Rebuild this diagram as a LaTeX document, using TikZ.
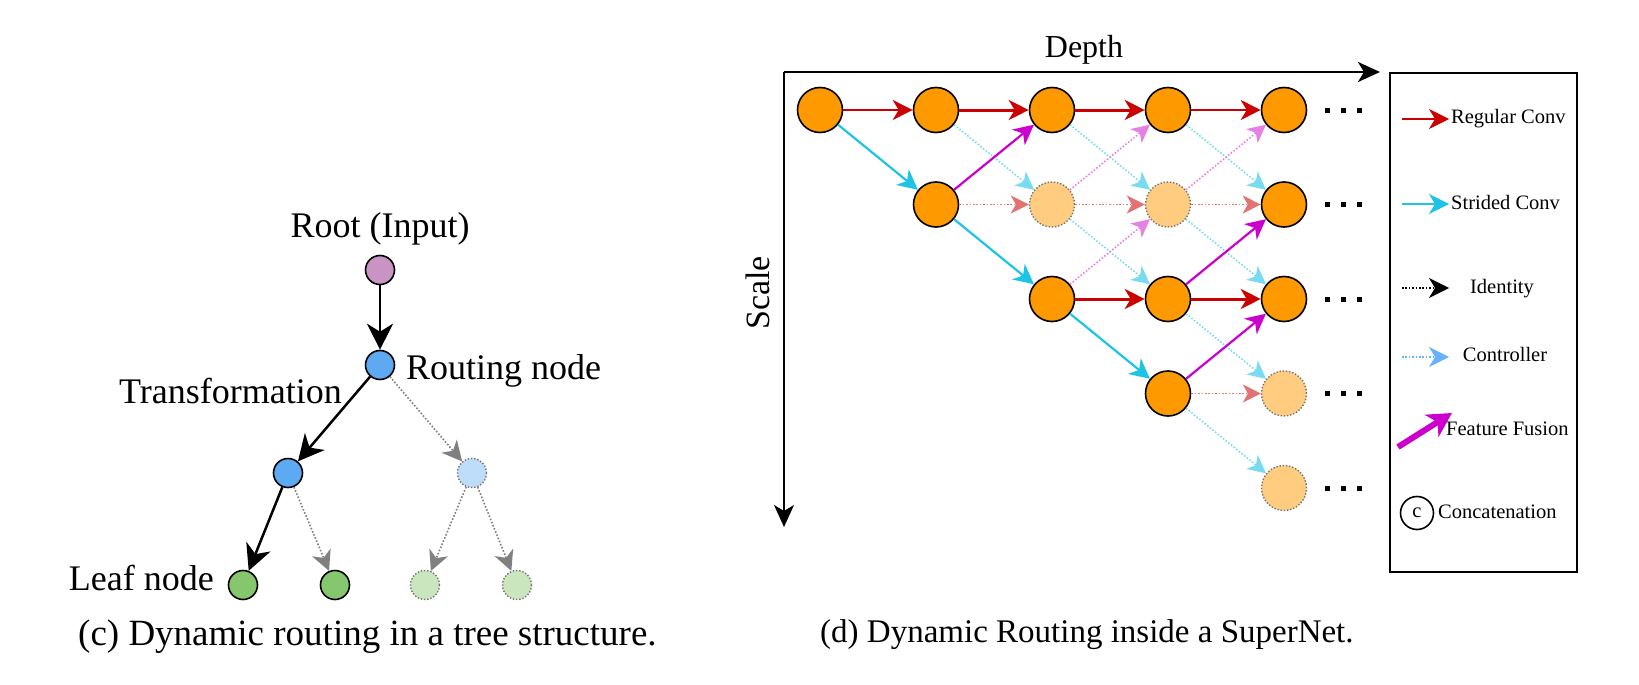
\documentclass[tikz,border=0pt]{standalone}
\usepackage{fontspec}
\setmainfont{Liberation Serif}
\usetikzlibrary{arrows.meta}
\definecolor{convc}{HTML}{CC0000}
\definecolor{stridec}{HTML}{1EC3E6}
\definecolor{fusec}{HTML}{CC00CC}
\definecolor{cellc}{HTML}{FF9900}
\definecolor{ctrlc}{HTML}{66B2FF}
\definecolor{rootc}{HTML}{C993C3}
\definecolor{routec}{HTML}{5DA9F2}
\definecolor{leafc}{HTML}{86C76E}
\newcommand\sizeto[1]{\fontsize{#1pt}{#1pt}\selectfont}

\begin{document}
\begin{tikzpicture}[x=1pt,y=-1pt,
		tip/.style={-{Stealth[length=20pt,width=20pt,inset=6pt]}},
		ftip/.style={-{Stealth[length=18pt,width=18pt,inset=5pt]}},
		fdot/.style={line width=1.6pt,dash pattern=on 1.6pt off 1.8pt},
		cell/.style={circle,draw,line width=1.6pt,fill=cellc,minimum size=45pt,inner sep=0pt},
		ghost/.style={circle,draw=black!55,line width=1.4pt,dash pattern=on 1.4pt off 1.8pt,fill=cellc!50,minimum size=45pt,inner sep=0pt},
		conv/.style={convc,line width=1.3pt,tip},
		tconv/.style={convc,line width=3pt,tip},
		stride/.style={stridec,line width=2.2pt,tip},
		fuse/.style={fusec,line width=2.2pt,tip},
		fconv/.style={convc!55,fdot,ftip},
		fstride/.style={stridec!60,fdot,ftip},
		ffuse/.style={fusec!50,fdot,ftip},
		tnode/.style={circle,draw,line width=1.6pt,minimum size=29pt,inner sep=0pt},
		tghost/.style={circle,draw=black!55,line width=1.4pt,dash pattern=on 1.4pt off 1.8pt,minimum size=29pt,inner sep=0pt},
		tedge/.style={line width=2.5pt,-{Stealth[length=26pt,width=26pt,inset=8pt]}},
		tskip/.style={black!50,fdot,-{Stealth[length=20pt,width=20pt,inset=6pt]}},
		lbl/.style={inner sep=0pt,font=\sizeto{36}},
		key/.style={inner sep=0pt,font=\sizeto{20.5}}]
	\useasboundingbox (0,0) rectangle (1639,685);

	% tree
	\node[tnode,fill=rootc] (root) at (380,270) {};
	\node[tnode,fill=routec] (route) at (380,365) {};
	\node[tnode,fill=routec] (midl) at (288,473) {};
	\node[tghost,fill=routec!40] (midr) at (472,473) {};
	\node[tnode,fill=leafc] (leaf1) at (243,585) {};
	\node[tnode,fill=leafc] (leaf2) at (335,585) {};
	\node[tghost,fill=leafc!45] (leaf3) at (425,585) {};
	\node[tghost,fill=leafc!45] (leaf4) at (517,585) {};
	\draw[tedge] (root) -- (route);
	\draw[tedge] (route) -- (midl);
	\draw[tskip] (route) -- (midr);
	\draw[tedge] (midl) -- (leaf1);
	\draw[tskip] (midl) -- (leaf2);
	\draw[tskip] (midr) -- (leaf3);
	\draw[tskip] (midr) -- (leaf4);
	\node[lbl,anchor=base] (rootlbl) at (380,237) {Root (Input)};
	\node[lbl,anchor=base west] (routelbl) at (406,379) {Routing node};
	\node[lbl,anchor=base east] (translbl) at (342,403) {Transformation};
	\node[lbl,anchor=base east] (leaflbl) at (214,590) {Leaf node};
	\node[lbl,anchor=base west,font=\sizeto{37}] (capc) at (78,645) {(c) Dynamic routing in a tree structure.};

	% supernet
	\coordinate (corner) at (784,72);
	\coordinate (dend) at (1380,72);
	\coordinate (send) at (784,527);
	\draw[line width=2.5pt,-{Stealth[length=22pt,width=20pt,inset=6pt]}] (corner) -- (dend);
	\draw[line width=1.8pt,-{Stealth[length=22pt,width=20pt,inset=6pt]}] (corner) -- (send);
	\node[lbl,anchor=base,font=\sizeto{32}] (depth) at (1084,58) {Depth};
	\node[lbl,anchor=base,rotate=90,font=\sizeto{34}] (scale) at (769,293) {Scale};
	\foreach \i in {0,...,4}
		\node[cell] (c\i0) at (820+116*\i,110) {};
	\node[cell] (c11) at (936,204.5) {};
	\node[ghost] (c21) at (1052,204.5) {};
	\node[ghost] (c31) at (1168,204.5) {};
	\node[cell] (c41) at (1284,204.5) {};
	\foreach \i in {2,3,4}
		\node[cell] (c\i2) at (820+116*\i,299) {};
	\node[cell] (c33) at (1168,393.5) {};
	\node[ghost] (c43) at (1284,393.5) {};
	\node[ghost] (c44) at (1284,488) {};
	\foreach \a/\b/\s in {c00/c10/conv, c30/c40/conv, c10/c20/tconv, c20/c30/tconv, c22/c32/tconv, c32/c42/tconv,
			c11/c21/fconv, c21/c31/fconv, c31/c41/fconv, c33/c43/fconv,
			c00/c11/stride, c11/c22/stride, c22/c33/stride,
			c10/c21/fstride, c20/c31/fstride, c30/c41/fstride, c21/c32/fstride, c31/c42/fstride, c32/c43/fstride, c33/c44/fstride,
			c11/c20/fuse, c32/c41/fuse, c33/c42/fuse,
			c21/c30/ffuse, c31/c40/ffuse, c22/c31/ffuse}
		\draw[\s] (\a) -- (\b);
	\foreach \j in {0,...,4}
		\foreach \k in {0,1,2}
			\fill (1324.5+16*\k,107.5+94.5*\j) rectangle ++(5,5);
	\node[lbl,anchor=base west,font=\sizeto{33}] (capd) at (820,642) {(d) Dynamic Routing inside a SuperNet.};

	% legend
	\draw[line width=1.8pt] (1390,73) rectangle (1577,572);
	\draw[conv] (1402,119) -- (1449,119);
	\node[key,anchor=base west] (kconv) at (1451,123) {Regular Conv};
	\draw[stride,line width=1.3pt] (1402,204) -- (1449,204);
	\node[key,anchor=base west] (kstride) at (1451,209) {Strided Conv};
	\draw[fdot,line width=1.2pt,tip] (1402,288) -- (1449,288);
	\node[key,anchor=base] (kid) at (1502,293) {Identity};
	\draw[ctrlc,fdot,line width=1.2pt,tip] (1402,357) -- (1449,357);
	\node[key,anchor=base] (kctrl) at (1505,361) {Controller};
	\draw[fusec,line width=6pt,-{Stealth[length=24pt,width=26pt,inset=7pt]}] (1398,447) -- (1452,413);
	\node[key,anchor=base west] (kfuse) at (1446,435) {Feature Fusion};
	\node[circle,draw,line width=1.6pt,minimum size=33pt,inner sep=0pt,font=\sizeto{20.5}] (kcirc) at (1417,513) {c};
	\node[key,anchor=base west] (kcat) at (1438,518) {Concatenation};
\end{tikzpicture}
\end{document}
